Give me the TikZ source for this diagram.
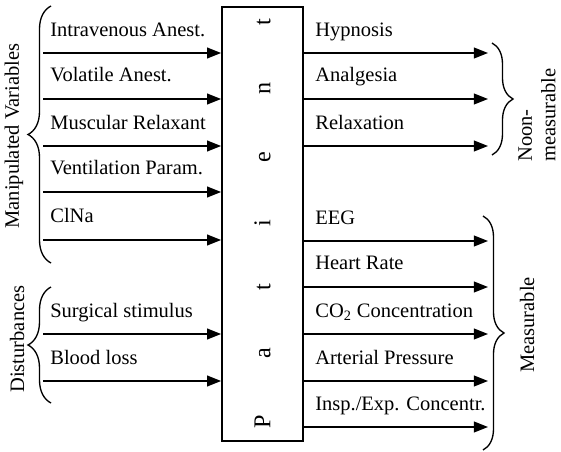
\documentclass[tikz,border=0pt]{standalone}
\usepackage{fontspec}
\setmainfont{Liberation Serif}
\usetikzlibrary{arrows.meta, positioning, decorations.pathreplacing}
\tikzset{
  patientbox/.style={rectangle, draw=black, line width=1pt, inner sep=0pt,
    minimum width=48.6pt, minimum height=260.4pt, font=\fontsize{14.5}{16}\selectfont},
  varlabel/.style={anchor=base west, inner sep=0pt, font=\fontsize{12.3}{14}\selectfont},
  grouplabel/.style={rotate=90, inner sep=0pt, align=left, font=\fontsize{12.3}{14}\selectfont},
  arrowline/.style={-{Triangle[length=8.5pt, width=6.5pt]}, line width=1pt},
  groupbrace/.style={decorate, decoration={brace, amplitude=#1}, line width=0.8pt},
}

\begin{document}
\begin{tikzpicture}[x=0.6pt, y=-0.6pt]
  \useasboundingbox (0,0) rectangle (561,452);

  \node[patientbox] (patient) at (262.5,224)
    {\rotatebox{90}{\makebox[246pt][s]{P\hfill a\hfill t\hfill i\hfill e\hfill n\hfill t}}};

  % inputs
  \coordinate (ivin) at (43,53);
  \coordinate (volin) at (43,99);
  \coordinate (musin) at (43,146);
  \coordinate (ventin) at (43,192);
  \coordinate (clnain) at (43,240);
  \coordinate (surgin) at (43,334);
  \coordinate (bloodin) at (43,381);

  \node[varlabel] (ivlab) at ([shift={(7,-17)}]ivin) {Intravenous Anest.};
  \node[varlabel] (vollab) at ([shift={(7,-17)}]volin) {Volatile Anest.};
  \node[varlabel] (muslab) at ([shift={(7,-17)}]musin) {Muscular Relaxant};
  \node[varlabel] (ventlab) at ([shift={(7,-17)}]ventin) {Ventilation Param.};
  \node[varlabel] (clnalab) at ([shift={(7,-17)}]clnain) {ClNa};
  \node[varlabel] (surglab) at ([shift={(7,-17)}]surgin) {Surgical stimulus};
  \node[varlabel] (bloodlab) at ([shift={(7,-17)}]bloodin) {Blood loss};

  \draw[arrowline] (ivin) -- (ivin -| patient.west);
  \draw[arrowline] (volin) -- (volin -| patient.west);
  \draw[arrowline] (musin) -- (musin -| patient.west);
  \draw[arrowline] (ventin) -- (ventin -| patient.west);
  \draw[arrowline] (clnain) -- (clnain -| patient.west);
  \draw[arrowline] (surgin) -- (surgin -| patient.west);
  \draw[arrowline] (bloodin) -- (bloodin -| patient.west);

  % outputs
  \coordinate (hypout) at (488,53);
  \coordinate (analgout) at (488,99);
  \coordinate (relaxout) at (488,146);
  \coordinate (eegout) at (488,241);
  \coordinate (hrout) at (488,287);
  \coordinate (cotwoout) at (488,334);
  \coordinate (apout) at (488,381);
  \coordinate (ieout) at (488,427);

  \node[varlabel] (hyplab) at ([shift={(-173,-17)}]hypout) {Hypnosis};
  \node[varlabel] (analglab) at ([shift={(-173,-17)}]analgout) {Analgesia};
  \node[varlabel] (relaxlab) at ([shift={(-173,-17)}]relaxout) {Relaxation};
  \node[varlabel] (eeglab) at ([shift={(-173,-17)}]eegout) {EEG};
  \node[varlabel] (hrlab) at ([shift={(-173,-17)}]hrout) {Heart Rate};
  \node[varlabel] (cotwolab) at ([shift={(-173,-17)}]cotwoout) {CO\textsubscript{2} Concentration};
  \node[varlabel] (aplab) at ([shift={(-173,-17)}]apout) {Arterial Pressure};
  \node[varlabel] (ielab) at ([shift={(-173,-17)}]ieout) {Insp./Exp. Concentr.};

  \draw[arrowline] (hypout -| patient.east) -- (hypout);
  \draw[arrowline] (analgout -| patient.east) -- (analgout);
  \draw[arrowline] (relaxout -| patient.east) -- (relaxout);
  \draw[arrowline] (eegout -| patient.east) -- (eegout);
  \draw[arrowline] (hrout -| patient.east) -- (hrout);
  \draw[arrowline] (cotwoout -| patient.east) -- (cotwoout);
  \draw[arrowline] (apout -| patient.east) -- (apout);
  \draw[arrowline] (ieout -| patient.east) -- (ieout);

  % groups
  \draw[groupbrace=13.8pt] (51,263) -- (51,6);
  \draw[groupbrace=13.8pt] (51,403) -- (51,287);
  \draw[groupbrace=12.6pt] (492,43) -- (492,155);
  \draw[groupbrace=12.6pt] (483,216) -- (483,450);

  \node[grouplabel] (maniplab) at (14,136) {Manipulated Variables};
  \node[grouplabel] (distlab) at (17,339) {Disturbances};
  \node[grouplabel, anchor=west] (noonlab) at (537,162) {Noon-\\measurable};
  \node[grouplabel] (measlab) at (527,325) {Measurable};
\end{tikzpicture}
\end{document}
